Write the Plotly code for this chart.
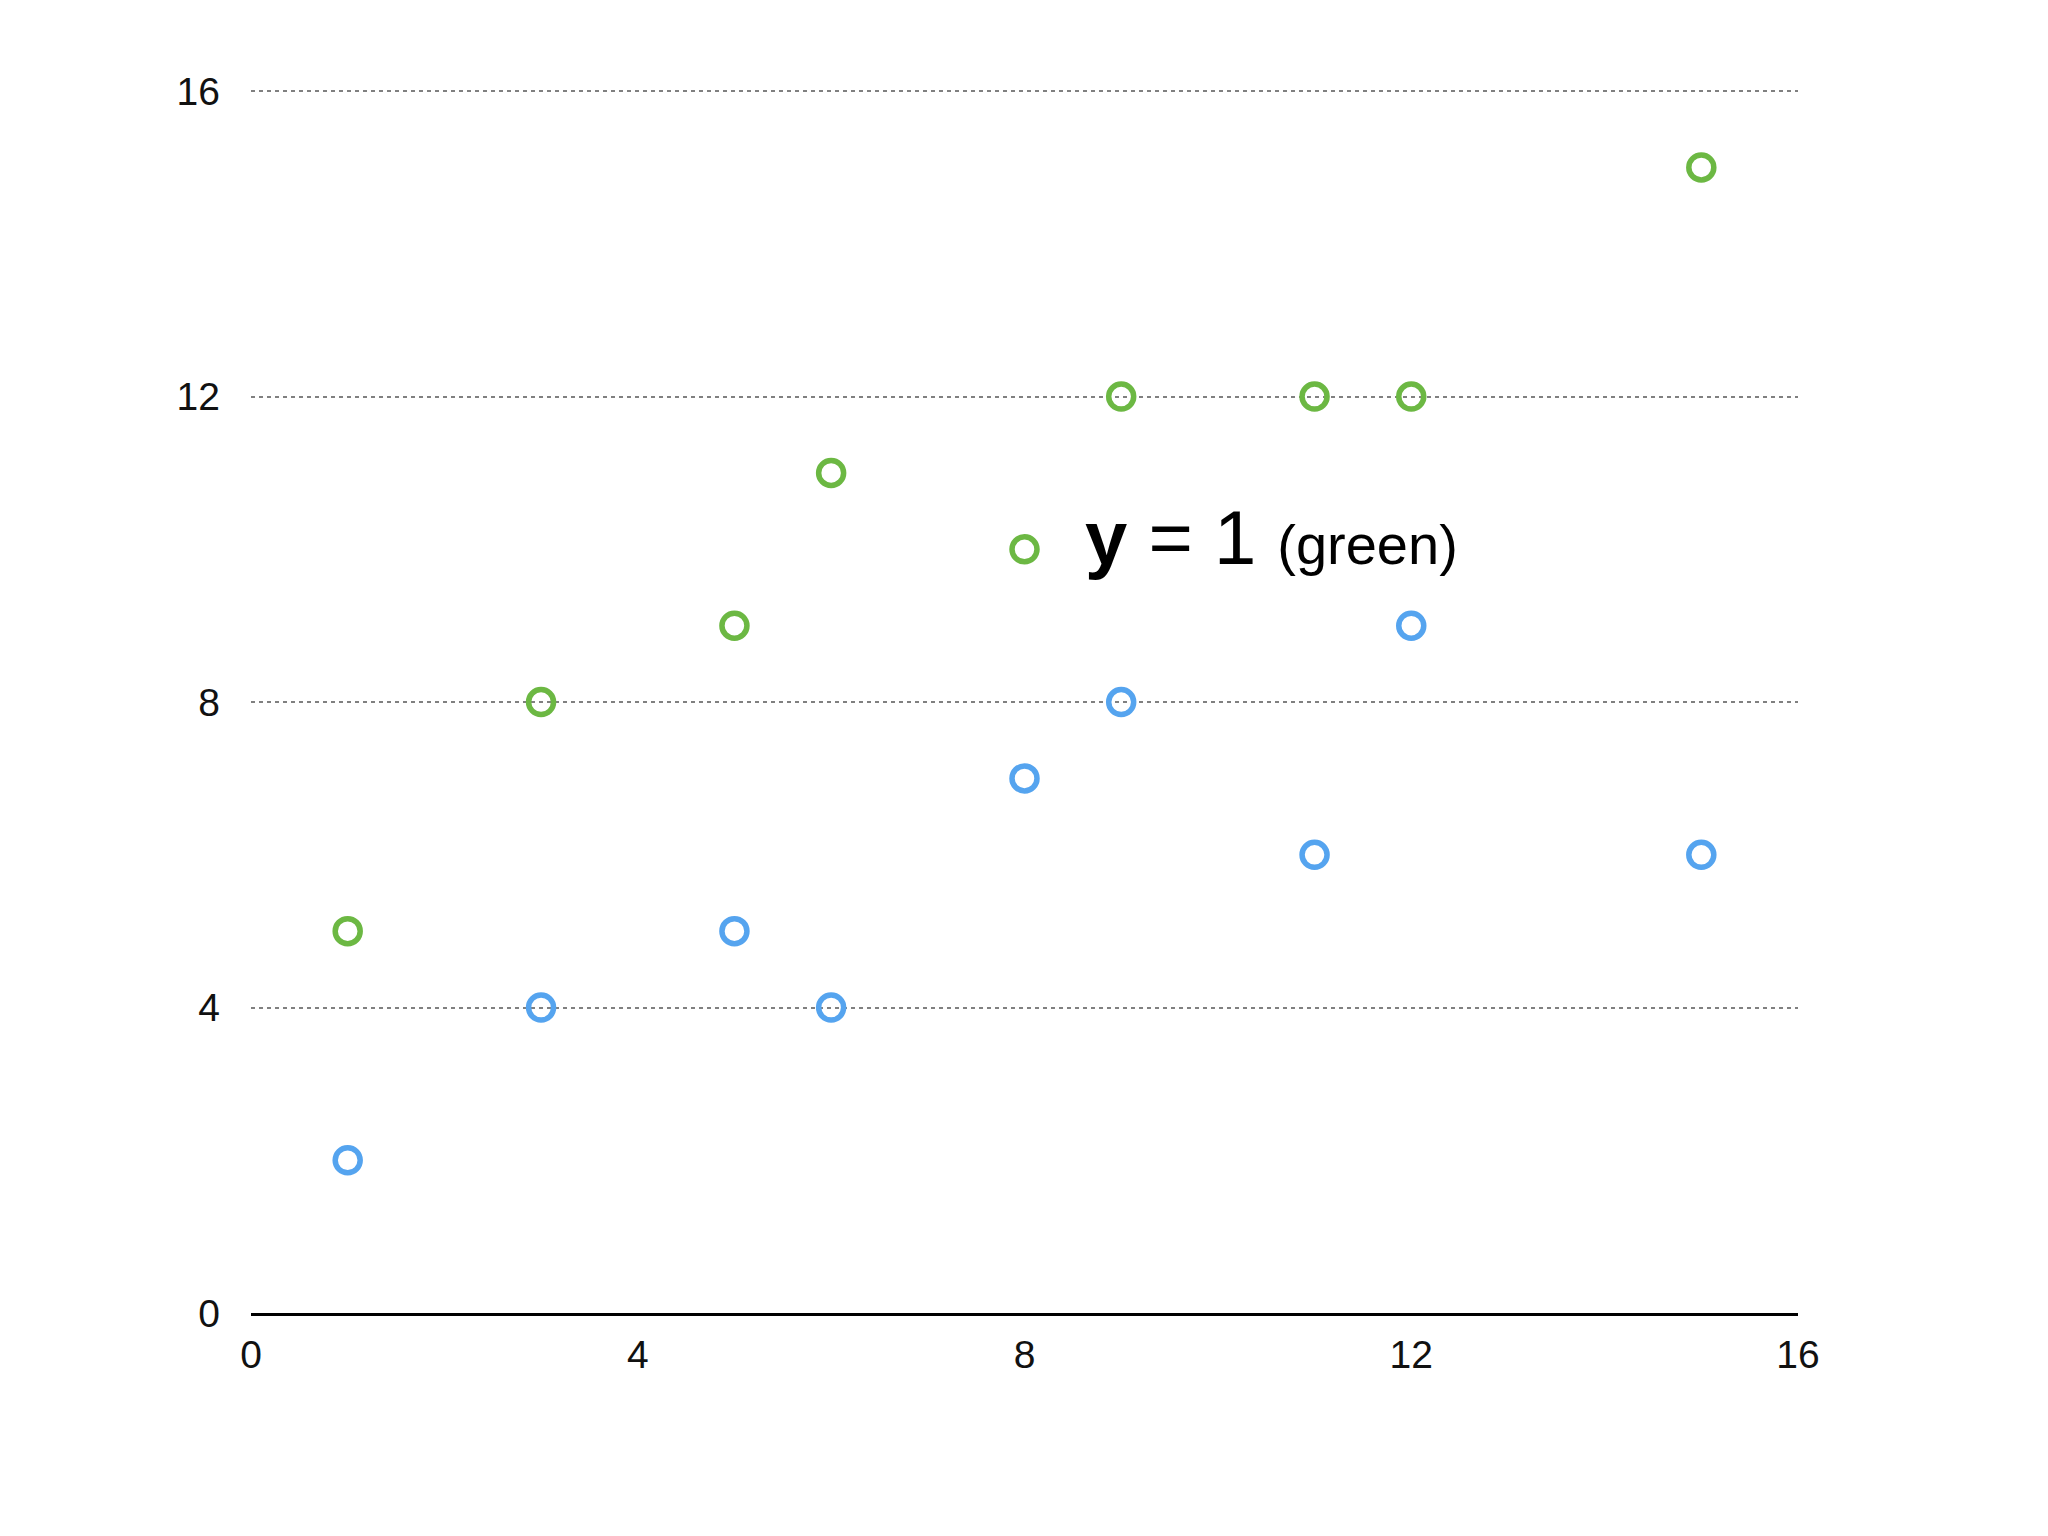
import plotly.graph_objects as go

# data
x_vals = [1, 3, 5, 6, 8, 9, 11, 12, 15]
green_y = [5, 8, 9, 11, 10, 12, 12, 12, 15]
blue_y = [2, 4, 5, 4, 7, 8, 6, 9, 6]
tick_vals = [0, 4, 8, 12, 16]
label_x, label_y = 8, 10

GREEN = '#6cb843'
BLUE = '#55a4ef'

green = go.Scatter(
    x=x_vals, y=green_y, mode='markers', name='green',
    marker=dict(symbol='circle-open', size=25, color=GREEN, line=dict(width=5.5, color=GREEN)))

blue = go.Scatter(
    x=x_vals, y=blue_y, mode='markers', name='blue',
    marker=dict(symbol='circle-open', size=25, color=BLUE, line=dict(width=5.5, color=BLUE)))

layout = go.Layout(
    width=2048, height=1536,
    paper_bgcolor='white', plot_bgcolor='white',
    showlegend=False,
    # page body adds 8px, so margins are shifted by that much
    margin=dict(l=243, r=258, t=80, b=231),
    font=dict(family='Liberation Sans, Arial, sans-serif', size=39, color='#111'),
    xaxis=dict(range=[0, 16], tickvals=tick_vals, showgrid=False, zeroline=False,
               showline=True, linecolor='black', linewidth=3, ticks='',
               ticklabelstandoff=5),
    # a little headroom so the 16 gridline is not clipped at the edge
    yaxis=dict(range=[0, 16.04], tickvals=tick_vals, showgrid=True,
               gridcolor='#808080', gridwidth=2, griddash='4px,4px',
               zeroline=False, showline=False, ticks='', ticklabelstandoff=30),
    annotations=[dict(
        x=label_x, y=label_y, xref='x', yref='y', xanchor='left', yanchor='middle',
        xshift=58, yshift=12, showarrow=False,
        text="<b>y</b> = 1 <span style='font-size:56px'>(green)</span>",
        font=dict(size=76, color='black'))]
)

fig = go.Figure(data=[green, blue], layout=layout)
fig.write_html("out.html")
